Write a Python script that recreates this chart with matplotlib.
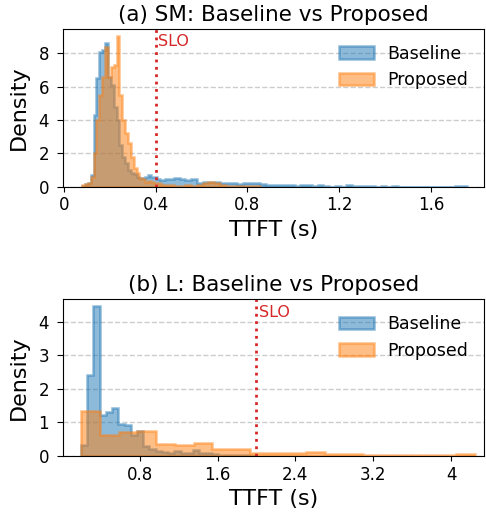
import matplotlib.pyplot as plt
import numpy as np

# ---- (a) SM : densities ----
# fine bins of 0.0125 s from 0.08 to 0.455, then 0.025 s bins in the tail
sm_fine_start, sm_fine_w = 0.08, 0.0125
sm_tail_start, sm_tail_w = 0.455, 0.025

sm_base_fine = [0.05, 0.15, 0.25, 0.7, 4.3, 6.5, 8.1, 8.2, 8.6, 6.6,
                6.1, 4.8, 4.0, 2.5, 1.8, 1.4, 1.0, 0.85, 0.75, 0.6,
                0.55, 0.5, 0.6, 0.7, 0.6, 0.6, 0.45, 0.4, 0.4, 0.45]
sm_base_tail = [0.45, 0.5, 0.45, 0.4, 0.45, 0.25, 0.3, 0.3, 0.3, 0.2,
                0.2, 0.2, 0.15, 0.2, 0.25, 0.25, 0.15, 0.1, 0.12, 0.1,
                0.1, 0.08, 0.05, 0.1, 0.08, 0.05, 0.08, 0.05, 0.0, 0.05,
                0.0, 0.08, 0.07, 0.07, 0.07, 0.05, 0.0, 0.05, 0.0, 0.05,
                0.0, 0.0, 0.0, 0.0, 0.0, 0.0, 0.0, 0.0, 0.0, 0.0,
                0.05, 0.05]
sm_prop_fine = [0.1, 0.15, 0.25, 0.6, 2.0, 4.0, 5.5, 6.6, 8.4, 6.6,
                7.2, 7.3, 9.0, 5.5, 4.0, 3.2, 2.6, 1.8, 1.1, 0.8,
                0.55, 0.45, 0.3, 0.35, 0.3, 0.2, 0.2, 0.15, 0.12, 0.1]
sm_prop_tail = [0.1, 0.05, 0.05, 0.08, 0.05, 0.1, 0.25, 0.3, 0.25, 0.1,
                0.05, 0.05, 0.03, 0.03, 0.02, 0.02]

# ---- (b) L ----
l_start = 0.196
l_base_w = 0.064
l_prop_w = 0.193
l_base = [0.34, 2.42, 4.47, 1.23, 1.30, 1.43, 0.96, 0.92, 0.62, 0.75,
          0.30, 0.22, 0.15, 0.11, 0.10, 0.15, 0.08, 0.08, 0.18, 0.09,
          0.08, 0.06, 0.04, 0.04, 0.03, 0.02, 0.02, 0.01]
l_prop = [1.33, 0.62, 0.71, 0.76, 0.37, 0.32, 0.39, 0.21, 0.21, 0.09,
          0.09, 0.09, 0.11, 0.05, 0.07, 0.03, 0.03, 0.03, 0.03, 0.03,
          0.05]

slo_sm = 0.4
slo_l = 2.0
sm_xticks = [0, 0.4, 0.8, 1.2, 1.6]
sm_xticklabels = ['0', '0.4', '0.8', '1.2', '1.6']
l_xticks = [0.8, 1.6, 2.4, 3.2, 4.0]
l_xticklabels = ['0.8', '1.6', '2.4', '3.2', '4']


def two_part_edges(fine_start, fine_w, n_fine, tail_start, tail_w, n_tail):
    fine = fine_start + fine_w * np.arange(n_fine + 1)
    tail = tail_start + tail_w * np.arange(1, n_tail + 1)
    return np.concatenate([fine, tail])


def draw_hist(ax, edges, dens, color, label):
    edges = np.asarray(edges)
    mids = 0.5 * (edges[:-1] + edges[1:])
    ax.hist(mids, bins=edges, weights=dens, histtype='stepfilled',
            alpha=0.5, color=color, edgecolor=color, linewidth=1.8, label=label)


def style(ax, slo, title, xlim, xticks, xlabels, yticks, dx):
    ax.axvline(slo, color='#d62728', linestyle=':', linewidth=2)
    ax.text(slo + dx, 0.965, 'SLO', color='#d62728', fontsize=11.5,
            va='top', ha='left', transform=ax.get_xaxis_transform())
    ax.set_title(title, fontsize=15.5)
    ax.set_xlabel('TTFT (s)', fontsize=16)
    ax.set_ylabel('Density', fontsize=16, labelpad=7)
    ax.set_xlim(*xlim)
    ax.set_xticks(xticks)
    ax.set_xticklabels(xlabels)
    ax.set_yticks(yticks)
    ax.tick_params(labelsize=12)
    ax.tick_params(axis='y', length=4.5, pad=5.5)
    ax.set_axisbelow(True)
    ax.yaxis.grid(True, linestyle='--', color='#cccccc', linewidth=1.0)
    ax.legend(loc='upper right', frameon=False, fontsize=12.5)


fig = plt.figure(figsize=(4.86, 5.23), dpi=100)
ax1 = fig.add_axes([0.1296, 0.643, 0.8665, 0.3016])
ax2 = fig.add_axes([0.1296, 0.128, 0.8665, 0.2997])

sm_base_edges = two_part_edges(sm_fine_start, sm_fine_w, len(sm_base_fine),
                               sm_tail_start, sm_tail_w, len(sm_base_tail))
sm_prop_edges = two_part_edges(sm_fine_start, sm_fine_w, len(sm_prop_fine),
                               sm_tail_start, sm_tail_w, len(sm_prop_tail))
draw_hist(ax1, sm_base_edges, sm_base_fine + sm_base_tail, '#1f77b4', 'Baseline')
draw_hist(ax1, sm_prop_edges, sm_prop_fine + sm_prop_tail, '#ff7f0e', 'Proposed')
ax1.set_ylim(0, 9.45)
style(ax1, slo_sm, '(a) SM: Baseline vs Proposed', (-0.003, 1.83),
      sm_xticks, sm_xticklabels, [0, 2, 4, 6, 8], 0.01)

l_base_edges = l_start + l_base_w * np.arange(len(l_base) + 1)
l_prop_edges = l_start + l_prop_w * np.arange(len(l_prop) + 1)
draw_hist(ax2, l_base_edges, l_base, '#1f77b4', 'Baseline')
draw_hist(ax2, l_prop_edges, l_prop, '#ff7f0e', 'Proposed')
ax2.set_ylim(0, 4.67)
style(ax2, slo_l, '(b) L: Baseline vs Proposed', (0.011, 4.34),
      l_xticks, l_xticklabels, [0, 1, 2, 3, 4], 0.03)

fig.savefig('out.png', dpi=100)
